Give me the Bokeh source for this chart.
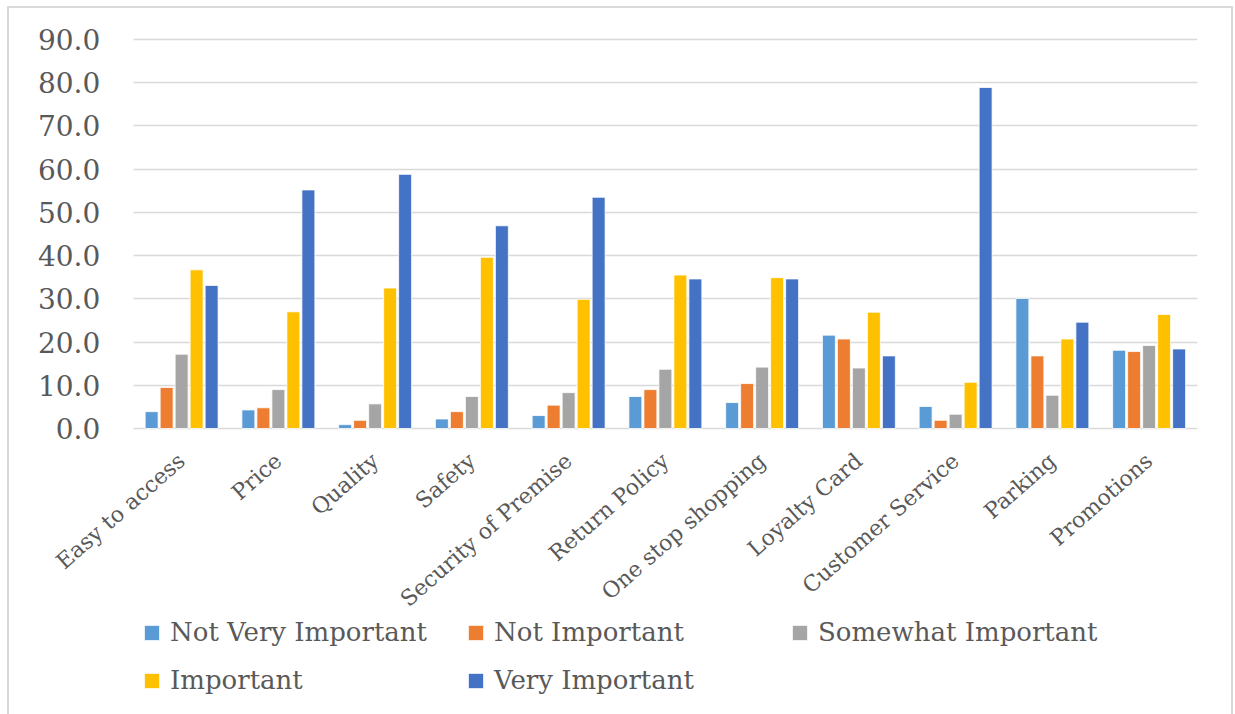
import math
from bokeh.plotting import figure
from bokeh.models import (ColumnDataSource, FactorRange, Range1d, FixedTicker,
                          NumeralTickFormatter, Legend, LegendItem)
from bokeh.transform import dodge
from bokeh.embed import file_html
from bokeh.resources import INLINE

categories = ["Easy to access", "Price", "Quality", "Safety", "Security of Premise",
              "Return Policy", "One stop shopping", "Loyalty Card", "Customer Service",
              "Parking", "Promotions"]
series_names = ["Not Very Important", "Not Important", "Somewhat Important",
                "Important", "Very Important"]
not_very_important = [3.9, 4.3, 0.9, 2.2, 3.0, 7.4, 6.0, 21.6, 5.1, 30.1, 18.1]
not_important = [9.5, 4.8, 1.9, 3.9, 5.4, 9.0, 10.4, 20.7, 1.9, 16.8, 17.8]
somewhat_important = [17.2, 9.0, 5.7, 7.4, 8.3, 13.7, 14.2, 14.0, 3.3, 7.7, 19.2]
important = [36.7, 27.0, 32.5, 39.6, 29.9, 35.5, 34.9, 26.9, 10.7, 20.7, 26.4]
very_important = [33.1, 55.2, 58.8, 46.9, 53.5, 34.6, 34.6, 16.8, 78.9, 24.6, 18.4]
y_ticks = [0, 10, 20, 30, 40, 50, 60, 70, 80, 90]

colors = ["#5B9BD5", "#ED7D31", "#A5A5A5", "#FFC000", "#4472C4"]
keys = ["nvi", "ni", "si", "i", "vi"]
values = [not_very_important, not_important, somewhat_important, important, very_important]

src = ColumnDataSource(dict(cat=categories, **{k: v for k, v in zip(keys, values)}))

FONT = "DejaVu Serif"
W, H = 1226, 708
HC = 708                             # drawing height
TOP, ZERO_ROW = 31, 420              # pixel rows of 90 and 0
ppu = (ZERO_ROW - TOP) / 90.0
y_min = -(HC - ZERO_ROW) / ppu       # frame reaches down to hold labels + legend
y_max = 90 + TOP / ppu               # and up to the top edge, so the "90.0" label is not cut

# one blank slot on the left gives the rotated first label room inside the frame
PAD = " "
p = figure(width=W, height=H, output_backend="svg", toolbar_location=None,
           x_range=FactorRange(PAD, *categories, range_padding=0),
           y_range=Range1d(y_min, y_max),
           min_border_left=27, min_border_right=38, min_border_top=0,
           min_border_bottom=0)
p.outline_line_color = None
p.styles = {"border-top": "2px solid #d9d9d9", "border-left": "2px solid #d9d9d9",
            "border-right": "2px solid #d9d9d9", "margin-left": "7px", "margin-top": "6px"}

step = 0.155
width = 0.134
renderers = []
for j, (k, c) in enumerate(zip(keys, colors)):
    r = p.vbar(x=dodge("cat", (j - 2) * step, range=p.x_range), top=k, width=width,
               source=src, fill_color=c, line_color="white", line_width=0.8)
    renderers.append(r)

# x axis drawn at value 0
p.xaxis.fixed_location = 0
p.xaxis.axis_line_color = None
p.xaxis.major_tick_line_color = None
p.xaxis.minor_tick_line_color = None
p.xaxis.major_label_orientation = 0.72
p.xaxis.major_label_text_font = FONT
p.xaxis.major_label_text_font_size = "22px"
p.xaxis.major_label_text_color = "#595959"
p.xaxis.major_label_standoff = 23

# y axis drawn at the left edge of the first real category
p.yaxis.fixed_location = 1.0
p.yaxis.ticker = FixedTicker(ticks=y_ticks)
p.yaxis.formatter = NumeralTickFormatter(format="0.0")
p.yaxis.axis_line_color = None
p.yaxis.major_tick_line_color = None
p.yaxis.minor_tick_line_color = None
p.yaxis.major_label_text_font = FONT
p.yaxis.major_label_text_font_size = "28px"
p.yaxis.major_label_text_color = "#595959"
p.yaxis.major_label_standoff = 27

p.xgrid.grid_line_color = None
p.ygrid.grid_line_color = "#d9d9d9"
p.ygrid.grid_line_width = 1.5
for g in p.ygrid:
    if "cross_bounds" in g.properties():
        g.cross_bounds = (1.0, float(len(categories) + 1))

legend = Legend(items=[LegendItem(label=n, renderers=[r]) for n, r in zip(series_names, renderers)],
                location=(106, 21), ncols=3, orientation="horizontal",
                glyph_width=19, glyph_height=19, label_height=24, label_width=278,
                label_standoff=9, spacing=18, padding=0, margin=0,
                border_line_color=None, background_fill_alpha=0,
                label_text_font=FONT, label_text_font_size="26px",
                label_text_color="#595959")
p.add_layout(legend, "center")

open("out.html", "w").write(file_html(p, INLINE))
